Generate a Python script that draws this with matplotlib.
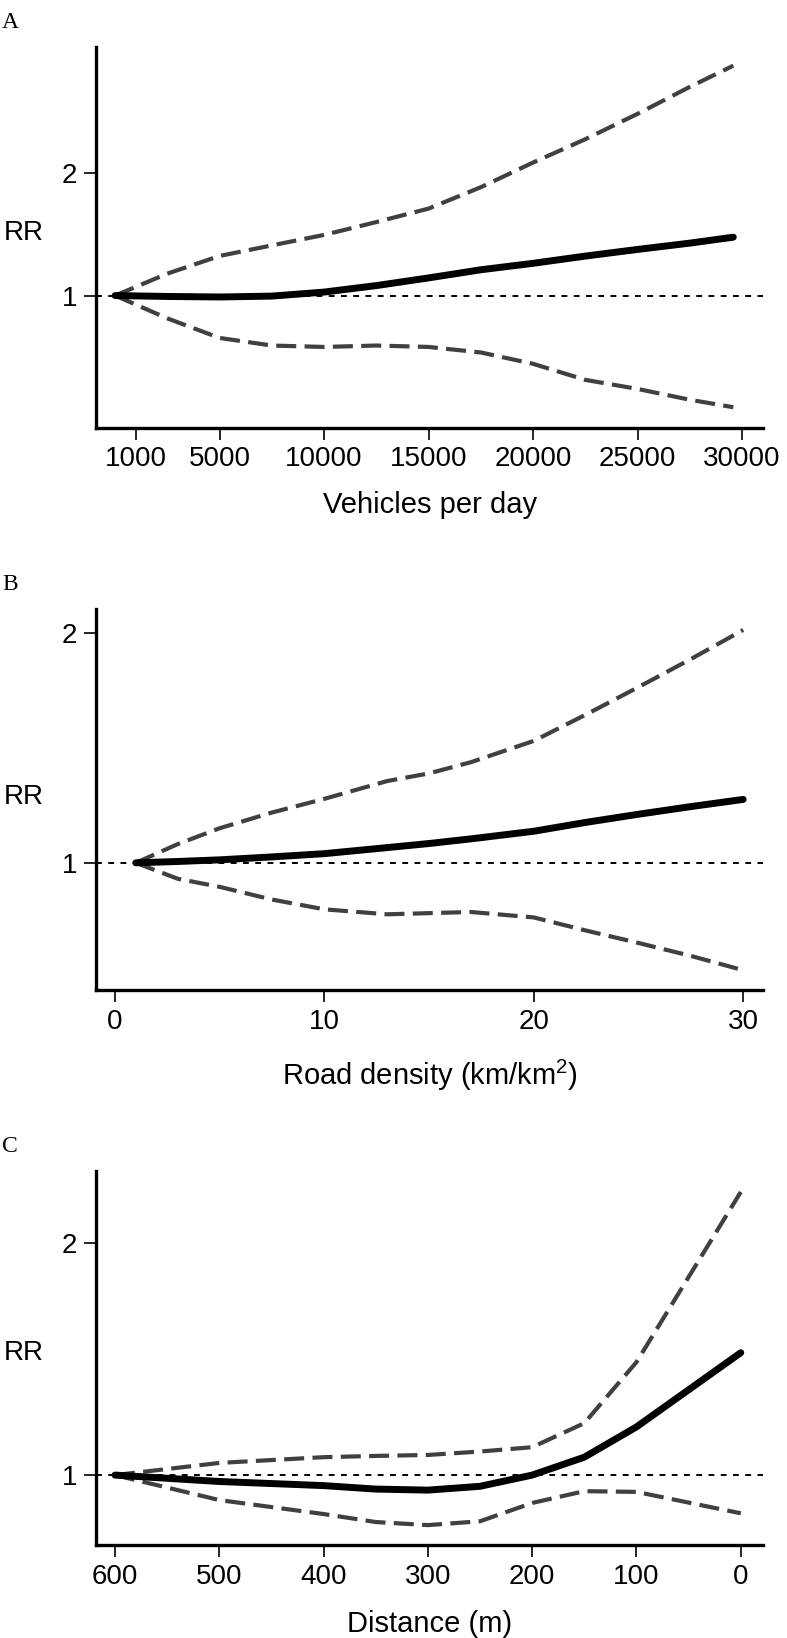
import matplotlib.pyplot as plt
from matplotlib.ticker import NullLocator

plt.rcParams["font.family"] = ["Liberation Sans", "DejaVu Sans"]
plt.rcParams["mathtext.fontset"] = "custom"
plt.rcParams["mathtext.rm"] = "Liberation Sans"

# ===================== DATA =====================
# Panel A: traffic volume (vehicles per day)
veh_x = [0, 2500, 5000, 7500, 10000, 12500, 15000, 17500, 20000, 22500, 25000, 27500, 29581]
veh_rr = [1.0, 0.995, 0.992, 0.997, 1.02, 1.058, 1.105, 1.157, 1.20, 1.25, 1.298, 1.345, 1.391]
veh_hi = [1.0, 1.132, 1.251, 1.328, 1.409, 1.515, 1.635, 1.845, 2.121, 2.42, 2.793, 3.253, 3.667]
veh_lo = [1.0, 0.879, 0.787, 0.754, 0.748, 0.754, 0.748, 0.725, 0.680, 0.621, 0.590, 0.555, 0.532]
veh_ticks = [1000, 5000, 10000, 15000, 20000, 25000, 30000]

# Panel B: road density (km/km2)
road_x = [1, 3, 5, 7.5, 10, 13, 15, 17, 20, 22.5, 25, 27.5, 30]
road_rr = [1.0, 1.004, 1.009, 1.018, 1.028, 1.047, 1.06, 1.075, 1.10, 1.13, 1.158, 1.185, 1.211]
road_hi = [1.0, 1.058, 1.11, 1.164, 1.213, 1.28, 1.31, 1.355, 1.445, 1.565, 1.70, 1.85, 2.02]
road_lo = [1.0, 0.953, 0.93, 0.895, 0.869, 0.856, 0.859, 0.862, 0.848, 0.815, 0.785, 0.755, 0.723]
road_ticks = [0, 10, 20, 30]

# Panel C: distance to road (m)
dist_x = [600, 500, 400, 350, 300, 250, 200, 150, 100, 0]
dist_rr = [1.0, 0.981, 0.969, 0.959, 0.956, 0.967, 1.0, 1.055, 1.155, 1.442]
dist_hi = [1.0, 1.037, 1.055, 1.059, 1.062, 1.073, 1.087, 1.168, 1.402, 2.332]
dist_lo = [1.0, 0.928, 0.890, 0.869, 0.861, 0.871, 0.920, 0.953, 0.951, 0.892]
dist_ticks = [600, 500, 400, 300, 200, 100, 0]

rr_ticks = [1, 2]

# ===================== LAYOUT (pixels of a 787 x 1638 canvas) =====================
W, H = 787, 1638
AX_L, AX_R = 96, 763.3


def add_panel(fig, top, bottom):
    return fig.add_axes([AX_L / W, 1 - bottom / H, (AX_R - AX_L) / W, (bottom - top) / H])


def draw_panel(ax, x, rr, lo, hi, xlim, ylim, xticks, xlabel, xlab_y, rr_y):
    ax.axhline(1, color="black", lw=1.4, linestyle=(0, (3, 3.3)), zorder=1)
    for band in (hi, lo):
        ax.plot(x, band, color="#404040", lw=3.0, linestyle=(0, (4.8, 2.0)), zorder=2)
    ax.plot(x, rr, color="black", lw=5.0, solid_capstyle="round", zorder=3)

    ax.set_yscale("log")
    ax.set_xlim(*xlim)
    ax.set_ylim(*ylim)
    ax.set_yticks(rr_ticks, labels=[str(t) for t in rr_ticks])
    ax.yaxis.set_minor_locator(NullLocator())
    ax.set_xticks(xticks, labels=[str(t) for t in xticks])

    for side in ("top", "right"):
        ax.spines[side].set_visible(False)
    for side in ("left", "bottom"):
        ax.spines[side].set_linewidth(2.4)
        ax.spines[side].set_capstyle("projecting")
    ax.tick_params(axis="both", direction="out", length=8.5, width=1.2,
                   labelsize=20, pad=5)

    ax.set_xlabel(xlabel, fontsize=21)
    ax.xaxis.set_label_coords(0.5, xlab_y)
    ax.xaxis.label.set_va("baseline")
    ax.set_ylabel("RR", rotation=0, fontsize=20, ha="center", va="center")
    ax.yaxis.set_label_coords(-0.108, rr_y)


fig = plt.figure(figsize=(W / 100, H / 100), dpi=100)

# ===================== A =====================
ax_a = add_panel(fig, 46.7, 427.7)
draw_panel(ax_a, veh_x, veh_rr, veh_lo, veh_hi, (-914, 31016), (0.4739, 4.082),
           veh_ticks, "Vehicles per day", -0.2247, 0.51)

# ===================== B =====================
ax_b = add_panel(fig, 609, 990)
draw_panel(ax_b, road_x, road_rr, road_lo, road_hi, (-0.9, 30.96), (0.6811, 2.152),
           road_ticks, r"Road density (km/km$\mathregular{^2}$)", -0.2493, 0.507)

# ===================== C =====================
ax_c = add_panel(fig, 1171, 1545)
draw_panel(ax_c, dist_x, dist_rr, dist_lo, dist_hi, (618.2, -21.6), (0.8113, 2.483),
           dist_ticks, "Distance (m)", -0.2318, 0.513)

# panel letters
for letter, base in (("A", 28.3), ("B", 590.5), ("C", 1152.5)):
    fig.text(2 / W, 1 - base / H, letter, family="Liberation Serif", fontsize=17,
             ha="left", va="baseline")

fig.savefig("out.png", dpi=100)
